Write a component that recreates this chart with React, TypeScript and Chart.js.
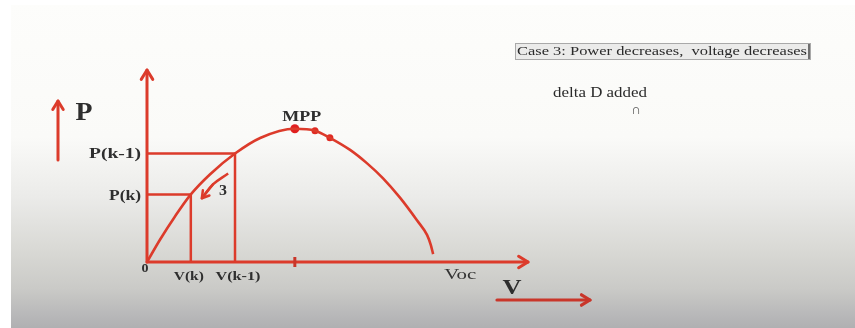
import { useEffect, useRef } from "react";
import { Chart, registerables } from "chart.js";

Chart.register(...registerables);

// P–V characteristic of the PV source (normalised units, V and P both 0..100 on the axes)
const curveV = [0, 3.4, 7.3, 11.5, 16.5, 23.1, 29.7, 38.8, 44.1, 48.0, 53.3, 57.7, 61.9, 66.4, 70.9, 73.5, 74.5, 75.1];
const curveP = [0, 11.6, 23.6, 35.2, 45.6, 56.5, 64.6, 69.4, 68.4, 64.7, 58.4, 51.5, 43.7, 33.5, 21.6, 14.1, 8.8, 4.1];

// Operating points: sample k and sample k-1
const stepNames = ["k", "k-1"];
const stepV = [11.5, 23.1];
const stepP = [35.2, 56.5];

// Maximum power point and the two perturbation dots to its right
const mppV = 38.8;
const mppP = 69.4;
const trailV = [44.1, 48.0];
const trailP = [68.4, 64.7];

// Curved arrow showing the move from k-1 to k ("3")
const moveV = [21.3, 17.3, 14.4];
const moveP = [46.1, 40.4, 33.2];
const moveLabel = "3";

// Axis extents
const vMax = 100;
const pMax = 100;

const caseText = "Case 3: Power decreases,  voltage decreases";
const noteText = "delta D added";

const RED = "#dc3b2b";
const DARK_RED = "#c9362a";
const INK = "#2e2e2e";
const SERIF = "'Liberation Serif', 'Times New Roman', serif";

type Ctx = CanvasRenderingContext2D;

function arrow(ctx: Ctx, x1: number, y1: number, x2: number, y2: number, head: number, width: number, color: string) {
  ctx.save();
  ctx.strokeStyle = color;
  ctx.lineWidth = width;
  ctx.lineCap = "round";
  ctx.lineJoin = "round";
  ctx.beginPath();
  ctx.moveTo(x1, y1);
  ctx.lineTo(x2, y2);
  ctx.stroke();
  const a = Math.atan2(y2 - y1, x2 - x1);
  ctx.beginPath();
  ctx.moveTo(x2 - head * Math.cos(a - 0.55), y2 - head * Math.sin(a - 0.55));
  ctx.lineTo(x2, y2);
  ctx.lineTo(x2 - head * Math.cos(a + 0.55), y2 - head * Math.sin(a + 0.55));
  ctx.stroke();
  ctx.restore();
}

function text(ctx: Ctx, s: string, x: number, y: number, font: string, color: string, align: "left" | "center" | "right", width?: number) {
  ctx.save();
  ctx.font = font;
  ctx.fillStyle = color;
  ctx.textBaseline = "middle";
  ctx.textAlign = "left";
  const w = ctx.measureText(s).width;
  const k = width ? width / w : 1;
  const left = align === "center" ? x - (w * k) / 2 : align === "right" ? x - w * k : x;
  ctx.translate(left, y);
  ctx.scale(k, 1);
  ctx.fillText(s, 0, 0);
  ctx.restore();
}

const slideBackground = {
  id: "slideBackground",
  beforeDraw(chart: Chart) {
    const { ctx, width, height } = chart;
    ctx.save();
    ctx.fillStyle = "#ffffff";
    ctx.fillRect(0, 0, width, height);
    const g = ctx.createLinearGradient(0, 0, 0, height);
    g.addColorStop(0, "#fdfdfb");
    g.addColorStop(0.42, "#fafaf8");
    g.addColorStop(0.6, "#ebebe9");
    g.addColorStop(0.76, "#d9d9d5");
    g.addColorStop(0.88, "#cacac7");
    g.addColorStop(0.96, "#b8b8b9");
    g.addColorStop(1, "#b0b0b2");
    ctx.fillStyle = g;
    ctx.fillRect(11, 5, width - 11, height - 5);
    ctx.restore();
  },
};

const sketchAnnotations = {
  id: "sketchAnnotations",
  afterDatasetsDraw(chart: Chart) {
    const { ctx } = chart;
    const xs = chart.scales.x;
    const ys = chart.scales.y;
    const px = (v: number) => xs.getPixelForValue(v);
    const py = (p: number) => ys.getPixelForValue(p);
    const x0 = px(0);
    const y0 = py(0);
    const xEnd = px(vMax);
    const yTop = py(pMax);

    // axes with open arrow heads
    arrow(ctx, x0, y0, x0, yTop, 11, 3, RED);
    arrow(ctx, x0, y0, xEnd, y0, 11, 3, RED);

    // tick at the MPP voltage
    ctx.save();
    ctx.strokeStyle = DARK_RED;
    ctx.lineWidth = 3;
    ctx.beginPath();
    ctx.moveTo(px(mppV), y0 - 5);
    ctx.lineTo(px(mppV), y0 + 5);
    ctx.stroke();
    ctx.restore();

    // arrow head at the end of the "3" move
    const n = moveV.length;
    arrow(ctx, px(moveV[n - 2]), py(moveP[n - 2]), px(moveV[n - 1]), py(moveP[n - 1]), 8, 2.5, RED);
    text(ctx, moveLabel, px(moveV[1]) + 10, py(moveP[1]) + 7, `bold 14px ${SERIF}`, INK, "center", 8);

    // operating point labels
    const pWidths = [32, 52];
    const vWidths = [30, 45];
    stepNames.forEach((name, i) => {
      text(ctx, `P(${name})`, x0 - 6, py(stepP[i]) + (i === 0 ? 2 : 1), `bold 15px ${SERIF}`, INK, "right", pWidths[i]);
      text(ctx, `V(${name})`, px(stepV[i]) + (i === 0 ? -2 : 3), y0 + 15, `bold 13px ${SERIF}`, INK, "center", vWidths[i]);
    });
    text(ctx, "0", x0 - 2, y0 + 7, `bold 13px ${SERIF}`, INK, "center", 7);
    text(ctx, "Voc", px(curveV[curveV.length - 1]) + 27, y0 + 13, `14px ${SERIF}`, "#333", "center", 32);
    text(ctx, "MPP", px(mppV) + 7, py(mppP) - 12, `bold 15px ${SERIF}`, INK, "center", 39);

    // big axis names with their direction arrows
    arrow(ctx, x0 - 89, yTop + 90, x0 - 89, yTop + 31, 10, 3, RED);
    text(ctx, "P", x0 - 63, yTop + 44, `bold 25px ${SERIF}`, INK, "center", 17);
    arrow(ctx, xEnd - 31, y0 + 38, xEnd + 62, y0 + 38, 10, 3.2, DARK_RED);
    text(ctx, "V", xEnd - 16, y0 + 26, `bold 22px ${SERIF}`, INK, "center", 19);

    // slide notes, top right
    ctx.save();
    ctx.fillStyle = "#ebebea";
    ctx.fillRect(515, 43, 295, 16);
    ctx.strokeStyle = "#a9a9a9";
    ctx.lineWidth = 1;
    ctx.strokeRect(515.5, 43.5, 295, 16);
    ctx.strokeStyle = "#444";
    ctx.lineWidth = 1.5;
    ctx.beginPath();
    ctx.moveTo(809, 44);
    ctx.lineTo(809, 59);
    ctx.stroke();
    ctx.restore();
    text(ctx, caseText, 517, 51.5, `13px ${SERIF}`, "#2a2a2a", "left", 290);
    text(ctx, noteText, 553, 93, `14px ${SERIF}`, "#2a2a2a", "left", 94);
    text(ctx, "\u2229", 636, 110, `14px ${SERIF}`, "#555", "center");
  },
};

export default function App() {
  const ref = useRef<HTMLCanvasElement | null>(null);

  useEffect(() => {
    document.body.style.margin = "0";
    const canvas = ref.current;
    if (!canvas) return;

    const guides = stepNames.map((_, i) => ({
      type: "line" as const,
      data: [
        { x: 0, y: stepP[i] },
        { x: stepV[i], y: stepP[i] },
        { x: stepV[i], y: 0 },
      ],
      borderColor: RED,
      borderWidth: 2.5,
      pointRadius: 0,
      tension: 0,
      clip: false as const,
    }));

    const chart = new Chart(canvas, {
      type: "line",
      data: {
        datasets: [
          {
            data: curveV.map((v, i) => ({ x: v, y: curveP[i] })),
            borderColor: RED,
            borderWidth: 2.6,
            pointRadius: 0,
            cubicInterpolationMode: "monotone",
            clip: false,
          },
          ...guides,
          {
            data: moveV.map((v, i) => ({ x: v, y: moveP[i] })),
            borderColor: RED,
            borderWidth: 2.5,
            pointRadius: 0,
            tension: 0.4,
            clip: false,
          },
          {
            type: "scatter",
            data: [{ x: mppV, y: mppP }],
            pointRadius: 4.5,
            pointBackgroundColor: "#e01f1f",
            pointBorderWidth: 0,
            clip: false,
          },
          {
            type: "scatter",
            data: trailV.map((v, i) => ({ x: v, y: trailP[i] })),
            pointRadius: 3.5,
            pointBackgroundColor: "#e02a22",
            pointBorderWidth: 0,
            clip: false,
          },
        ],
      },
      options: {
        responsive: false,
        animation: false,
        events: [],
        layout: { padding: { left: 147, right: 327, top: 70, bottom: 66 } },
        scales: {
          x: { type: "linear", min: 0, max: vMax, display: false },
          y: { type: "linear", min: 0, max: pMax, display: false },
        },
        plugins: {
          legend: { display: false },
          tooltip: { enabled: false },
        },
      },
      plugins: [slideBackground, sketchAnnotations],
    });

    return () => chart.destroy();
  }, []);

  return <canvas ref={ref} width={855} height={328} style={{ display: "block" }} />;
}
